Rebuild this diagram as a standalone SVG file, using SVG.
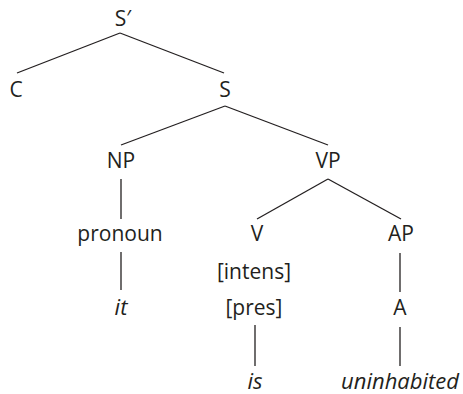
<svg xmlns="http://www.w3.org/2000/svg" width="463" height="394" viewBox="0 0 463 394">
<style>
text{font-family:"Open Sans","Noto Sans",sans-serif;font-size:21px;fill:#231f20;text-anchor:middle}
.it{font-style:italic;font-size:22px}
#edges line{stroke:#231f20;stroke-width:1.3}
</style>
<rect width="463" height="394" fill="#fff"/>
<g id="edges">
<line x1="120" y1="33" x2="17" y2="73"/>
<line x1="120" y1="33" x2="224" y2="73"/>
<line x1="225" y1="106" x2="121" y2="145"/>
<line x1="225" y1="106" x2="328" y2="145"/>
<line x1="121" y1="179" x2="121" y2="219"/>
<line x1="328" y1="179" x2="257" y2="219"/>
<line x1="328" y1="179" x2="401" y2="219"/>
<line x1="121" y1="252" x2="121" y2="290"/>
<line x1="400" y1="253" x2="400" y2="292"/>
<line x1="255" y1="325" x2="255" y2="366"/>
<line x1="400" y1="327" x2="400" y2="366"/>
</g>
<g id="Sbar"><text x="123" y="26">S′</text></g>
<g id="C"><text x="16" y="97">C</text></g>
<g id="S"><text x="225" y="97">S</text></g>
<g id="NP"><text x="121" y="168">NP</text></g>
<g id="VP"><text x="328" y="168">VP</text></g>
<g id="pronoun"><text x="120" y="241">pronoun</text></g>
<g id="V"><text x="257" y="241">V</text></g>
<g id="AP"><text x="401" y="241">AP</text></g>
<g id="intens"><text x="254" y="279">[intens]</text></g>
<g id="pres"><text x="254" y="315">[pres]</text></g>
<g id="it"><text class="it" x="121" y="315">it</text></g>
<g id="A"><text x="400" y="315">A</text></g>
<g id="is"><text class="it" x="255" y="389">is</text></g>
<g id="uninhabited"><text class="it" x="400" y="389">uninhabited</text></g>
</svg>
